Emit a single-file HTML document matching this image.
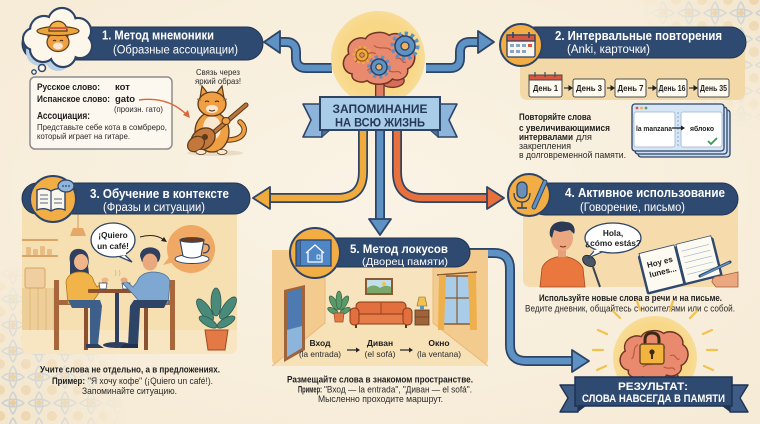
<!DOCTYPE html>
<html><head><meta charset="utf-8">
<style>
html,body{margin:0;padding:0;background:#f8efde;}
svg{display:block;}
text{font-family:"Liberation Sans","DejaVu Sans",sans-serif;}
.w{fill:#ffffff;font-weight:bold;}
.ws{fill:#ffffff;}
.b{fill:#1e1e1e;font-weight:bold;}
.n{fill:#2a2a2a;}
</style></head><body>
<svg width="760" height="424" viewBox="0 0 760 424" xmlns="http://www.w3.org/2000/svg">
<defs>
  <radialGradient id="bg" cx="0.5" cy="0.45" r="0.7">
    <stop offset="0" stop-color="#faf3e5"/>
    <stop offset="1" stop-color="#f6ebd6"/>
  </radialGradient>
  <pattern id="tile" width="26" height="26" patternUnits="userSpaceOnUse">
    <rect width="26" height="26" fill="#f2e4cb"/>
    <path d="M13 2 C18 7 18 19 13 24 C8 19 8 7 13 2Z" fill="none" stroke="#a8bed2" stroke-width="1.5"/>
    <path d="M2 13 C7 8 19 8 24 13 C19 18 7 18 2 13Z" fill="none" stroke="#a8bed2" stroke-width="1.5"/>
    <circle cx="13" cy="13" r="3" fill="#e2b878"/>
    <circle cx="0" cy="0" r="5" fill="#e8c995"/>
    <circle cx="26" cy="0" r="5" fill="#e8c995"/>
    <circle cx="0" cy="26" r="5" fill="#e8c995"/>
    <circle cx="26" cy="26" r="5" fill="#e8c995"/>
  </pattern>
  <radialGradient id="gTR" cx="1" cy="0" r="1">
    <stop offset="0" stop-color="#fff" stop-opacity="0.65"/>
    <stop offset="0.35" stop-color="#fff" stop-opacity="0.3"/>
    <stop offset="0.6" stop-color="#fff" stop-opacity="0"/>
  </radialGradient>
  <radialGradient id="gBL" cx="0" cy="1" r="1">
    <stop offset="0" stop-color="#fff" stop-opacity="0.7"/>
    <stop offset="0.45" stop-color="#fff" stop-opacity="0.3"/>
    <stop offset="0.75" stop-color="#fff" stop-opacity="0"/>
  </radialGradient>
  <mask id="mTR"><rect x="560" y="0" width="200" height="220" fill="url(#gTR)"/></mask>
  <mask id="mBL"><rect x="0" y="200" width="170" height="224" fill="url(#gBL)"/></mask>
  <radialGradient id="glow" cx="0.5" cy="0.5" r="0.5">
    <stop offset="0" stop-color="#f9d47c"/>
    <stop offset="0.8" stop-color="#f8d888"/>
    <stop offset="1" stop-color="#f8dc98"/>
  </radialGradient>
  <g id="brain">
    <ellipse cx="396" cy="82" rx="14" ry="8" fill="#d66e56" stroke="#6e3426" stroke-width="1.6"/>
    <path d="M376,78 L376,104 L386,104 L386,78 Z" fill="#e07c62" stroke="#6e3426" stroke-width="1.6"/>
    <path d="M348,74 C336,72 334,56 344,50 C340,38 352,28 364,32 C368,24 384,22 392,28 C402,22 418,30 416,42 C426,48 424,64 414,68 C416,78 404,84 396,80 C390,88 372,88 366,82 C358,86 346,82 348,74 Z" fill="#e98a6e" stroke="#6e3426" stroke-width="1.8"/>
    <path d="M352,60 C358,54 352,46 360,42 M366,70 C372,64 380,70 386,62 M374,40 C380,46 390,40 394,46 M400,56 C408,52 406,62 412,60 M362,50 C368,52 370,46 376,50 M392,70 C398,74 404,68 406,74" fill="none" stroke="#b9563f" stroke-width="1.4"/>
  </g>
</defs>

<!-- background -->
<rect width="760" height="424" fill="url(#bg)"/>
<rect x="560" y="0" width="200" height="220" fill="url(#tile)" mask="url(#mTR)"/>
<rect x="0" y="200" width="170" height="224" fill="url(#tile)" mask="url(#mBL)"/>

<!-- ============ CONNECTORS ============ -->
<path d="M332,68 L306,68 Q296,68 296,58 L296,52 Q296,42 286,42 L279,42" fill="none" stroke="#2d4466" stroke-width="10"/>
<path d="M332,68 L306,68 Q296,68 296,58 L296,52 Q296,42 286,42 L278,42" fill="none" stroke="#5e91c4" stroke-width="6.5"/>
<polygon points="264,42 280,31 280,53" fill="#5e91c4" stroke="#2d4466" stroke-width="1.8" stroke-linejoin="round"/>
<path d="M426,68 L450,68 Q460,68 460,58 L460,52 Q460,42 470,42 L478,42" fill="none" stroke="#2d4466" stroke-width="10"/>
<path d="M426,68 L450,68 Q460,68 460,58 L460,52 Q460,42 470,42 L479,42" fill="none" stroke="#5e91c4" stroke-width="6.5"/>
<polygon points="494,42 478,31 478,53" fill="#5e91c4" stroke="#2d4466" stroke-width="1.8" stroke-linejoin="round"/>
<path d="M363,130 L363,172 Q363,198 337,198 L269,198" fill="none" stroke="#2d4466" stroke-width="10"/>
<path d="M363,130 L363,172 Q363,198 337,198 L268,198" fill="none" stroke="#f1aa3c" stroke-width="6.5"/>
<polygon points="253,198 270,187 270,209" fill="#f1aa3c" stroke="#2d4466" stroke-width="1.8" stroke-linejoin="round"/>
<path d="M380,130 L380,220" fill="none" stroke="#2d4466" stroke-width="10"/>
<path d="M380,130 L380,221" fill="none" stroke="#5e91c4" stroke-width="6.5"/>
<polygon points="380,235 369,219 391,219" fill="#5e91c4" stroke="#2d4466" stroke-width="1.8" stroke-linejoin="round"/>
<path d="M397,130 L397,172 Q397,198 423,198 L488,198" fill="none" stroke="#2d4466" stroke-width="10"/>
<path d="M397,130 L397,172 Q397,198 423,198 L489,198" fill="none" stroke="#e8703d" stroke-width="6.5"/>
<polygon points="504,198 487,187 487,209" fill="#e8703d" stroke="#2d4466" stroke-width="1.8" stroke-linejoin="round"/>
<path d="M460,253 L494,253 Q510,253 510,269 L510,345 Q510,361 526,361 L573,361" fill="none" stroke="#2d4466" stroke-width="10"/>
<path d="M460,253 L494,253 Q510,253 510,269 L510,345 Q510,361 526,361 L574,361" fill="none" stroke="#5e91c4" stroke-width="6.5"/>
<polygon points="589,361 572,350 572,372" fill="#5e91c4" stroke="#2d4466" stroke-width="1.8" stroke-linejoin="round"/>

<!-- ============ CENTER BRAIN ============ -->
<circle cx="378" cy="58" r="47" fill="url(#glow)"/>
<use href="#brain" transform="translate(379,58) scale(0.84) translate(-380,-55)"/>
<circle cx="405" cy="46" r="12" fill="none" stroke="#5e91c4" stroke-width="5" stroke-dasharray="3.2 3"/>
<circle cx="405" cy="46" r="10" fill="#5e91c4" stroke="#2d4466" stroke-width="1.5"/>
<circle cx="405" cy="46" r="4" fill="#f4b15a" stroke="#2d4466" stroke-width="1.3"/>
<circle cx="379" cy="67" r="9.5" fill="none" stroke="#5e91c4" stroke-width="4.5" stroke-dasharray="3 2.8"/>
<circle cx="379" cy="67" r="8" fill="#5e91c4" stroke="#2d4466" stroke-width="1.5"/>
<circle cx="379" cy="67" r="3.2" fill="#f4b15a" stroke="#2d4466" stroke-width="1.2"/>
<circle cx="362" cy="55" r="7.5" fill="none" stroke="#f1aa3c" stroke-width="3.5" stroke-dasharray="2.4 2.2"/>
<circle cx="362" cy="55" r="6" fill="#f1aa3c" stroke="#8a5a1e" stroke-width="1.2"/>
<circle cx="362" cy="55" r="2.3" fill="#e98a6e" stroke="#8a5a1e" stroke-width="1"/>

<polygon points="322,104 303,104 311,120 303,137 322,137" fill="#8db4da" stroke="#2d4466" stroke-width="1.6" stroke-linejoin="round"/>
<polygon points="438,104 457,104 449,120 457,137 438,137" fill="#8db4da" stroke="#2d4466" stroke-width="1.6" stroke-linejoin="round"/>
<polygon points="322,130 322,137 330,130" fill="#4e6f98" stroke="#2d4466" stroke-width="1"/>
<polygon points="438,130 438,137 430,130" fill="#4e6f98" stroke="#2d4466" stroke-width="1"/>
<rect x="320" y="97" width="120" height="33" fill="#a9cce8" stroke="#2d4466" stroke-width="2"/>
<text x="380" y="113" text-anchor="middle" font-size="12" font-weight="bold" fill="#24385a" textLength="95" lengthAdjust="spacingAndGlyphs">ЗАПОМИНАНИЕ</text>
<text x="380" y="126.5" text-anchor="middle" font-size="12" font-weight="bold" fill="#24385a" textLength="90" lengthAdjust="spacingAndGlyphs">НА ВСЮ ЖИЗНЬ</text>

<!-- ============ CARD 1 ============ -->
<rect x="22" y="27" width="241" height="33" rx="16.5" fill="#2f4a70" stroke="#1f3352" stroke-width="1"/>
<g>
  <g fill="#b9d0e6">
    <circle cx="40" cy="52" r="14"/><circle cx="58" cy="58" r="13"/>
  </g>
  <g fill="#fdf6ea" stroke="#2d4466" stroke-width="2.2">
    <circle cx="44" cy="30" r="14"/><circle cx="62" cy="22" r="14"/><circle cx="78" cy="31" r="13"/>
    <circle cx="80" cy="46" r="12"/><circle cx="63" cy="54" r="13"/><circle cx="43" cy="49" r="13"/><circle cx="34" cy="39" r="11"/>
  </g>
  <g fill="#fdf6ea">
    <circle cx="44" cy="30" r="12.9"/><circle cx="62" cy="22" r="12.9"/><circle cx="78" cy="31" r="11.9"/>
    <circle cx="80" cy="46" r="10.9"/><circle cx="63" cy="54" r="11.9"/><circle cx="43" cy="49" r="11.9"/><circle cx="34" cy="39" r="9.9"/>
    <circle cx="58" cy="38" r="16"/>
  </g>
  <circle cx="42" cy="68" r="3.5" fill="#fdf6ea" stroke="#2d4466" stroke-width="1.5"/>
  <circle cx="34" cy="72" r="2.2" fill="#fdf6ea" stroke="#2d4466" stroke-width="1.3"/>
  <polygon points="48,36 50,27 55,33" fill="#f0a042" stroke="#5b3a1a" stroke-width="1"/>
  <polygon points="68,36 66,27 61,33" fill="#f0a042" stroke="#5b3a1a" stroke-width="1"/>
  <ellipse cx="58" cy="42" rx="11" ry="9.5" fill="#f0a042" stroke="#5b3a1a" stroke-width="1.2"/>
  <ellipse cx="58" cy="46" rx="5" ry="3.5" fill="#fbe7cf"/>
  <path d="M53,41 q1.5,-1.5 3,0 M60,41 q1.5,-1.5 3,0" stroke="#3a2a1a" stroke-width="1" fill="none"/>
  <ellipse cx="58" cy="31" rx="21" ry="4.5" fill="#eaa53c" stroke="#5b3a1a" stroke-width="1.2"/>
  <path d="M49,31 C49,18 67,18 67,31 Z" fill="#f0b44a" stroke="#5b3a1a" stroke-width="1.2"/>
  <path d="M49,28 L67,28" stroke="#d9553d" stroke-width="2"/>
</g>
<text x="102" y="39.5" font-size="12.5" class="w" textLength="112" lengthAdjust="spacingAndGlyphs">1. Метод мнемоники</text>
<text x="113" y="53.5" font-size="11.5" class="ws" textLength="125" lengthAdjust="spacingAndGlyphs">(Образные ассоциации)</text>

<rect x="30" y="77" width="142" height="72" rx="5" fill="#fcf8f0" stroke="#8c8c8c" stroke-width="1.5"/>
<text x="37" y="90" font-size="9.5" class="b" textLength="63" lengthAdjust="spacingAndGlyphs">Русское слово:</text>
<text x="115" y="90" font-size="9.5" class="b">кот</text>
<text x="37" y="102" font-size="9.5" class="b" textLength="73" lengthAdjust="spacingAndGlyphs">Испанское слово:</text>
<text x="115" y="102" font-size="9.5" class="b">gato</text>
<text x="114" y="112" font-size="8" class="n" textLength="49" lengthAdjust="spacingAndGlyphs">(произн. гато)</text>
<text x="37" y="119" font-size="10" class="b" textLength="53" lengthAdjust="spacingAndGlyphs">Ассоциация:</text>
<text x="37" y="130" font-size="8.3" class="n" textLength="130" lengthAdjust="spacingAndGlyphs">Представьте себе кота в сомбреро,</text>
<text x="37" y="139" font-size="8.3" class="n" textLength="93" lengthAdjust="spacingAndGlyphs">который играет на гитаре.</text>
<path d="M139,100 Q168,96 187,115" fill="none" stroke="#d8683c" stroke-width="1.4"/>
<polygon points="190,118 183,115 188,110" fill="#d8683c"/>

<text x="218" y="75" text-anchor="middle" font-size="8" class="n" textLength="44" lengthAdjust="spacingAndGlyphs">Связь через</text>
<text x="218" y="84" text-anchor="middle" font-size="8" class="n" textLength="46" lengthAdjust="spacingAndGlyphs">яркий образ!</text>
<ellipse cx="215" cy="153" rx="28" ry="3" fill="#e8dcc4"/>
<path d="M228,140 C245,140 248,128 240,122" fill="none" stroke="#5b3a1a" stroke-width="5.5" stroke-linecap="round"/>
<path d="M228,140 C245,140 248,128 240,122" fill="none" stroke="#f0a042" stroke-width="3.5" stroke-linecap="round"/>
<ellipse cx="212" cy="132" rx="17" ry="20" fill="#f0a042" stroke="#5b3a1a" stroke-width="1.3"/>
<ellipse cx="212" cy="128" rx="9" ry="12" fill="#fbe7cf"/>
<polygon points="200,98 202,86 209,95" fill="#f0a042" stroke="#5b3a1a" stroke-width="1.2"/>
<polygon points="224,98 222,86 215,95" fill="#f0a042" stroke="#5b3a1a" stroke-width="1.2"/>
<ellipse cx="212" cy="104" rx="14" ry="12" fill="#f0a042" stroke="#5b3a1a" stroke-width="1.3"/>
<ellipse cx="212" cy="109" rx="6" ry="4" fill="#fbe7cf"/>
<path d="M205,102 q2,-2 4,0 M215,102 q2,-2 4,0 M209,110 q3,2 6,0" stroke="#3a2a1a" stroke-width="1" fill="none"/>
<path d="M201,100 l-4,-1 M223,100 l4,-1" stroke="#b35a1e" stroke-width="1"/>
<line x1="212" y1="134" x2="246" y2="105" stroke="#5b3a1a" stroke-width="5" stroke-linecap="round"/>
<line x1="212" y1="134" x2="246" y2="105" stroke="#b8743a" stroke-width="3" stroke-linecap="round"/>
<ellipse cx="203" cy="139" rx="13" ry="10" fill="#c4773a" stroke="#5b3a1a" stroke-width="1.3" transform="rotate(-35 203 139)"/>
<ellipse cx="196" cy="144" rx="9" ry="7" fill="#c4773a" stroke="#5b3a1a" stroke-width="1.2" transform="rotate(-35 196 144)"/>
<circle cx="205" cy="137" r="3" fill="#5b3a1a"/>
<ellipse cx="226" cy="121" rx="4" ry="3.5" fill="#f0a042" stroke="#5b3a1a" stroke-width="1"/>
<ellipse cx="201" cy="152" rx="5" ry="2.5" fill="#fbe7cf" stroke="#5b3a1a" stroke-width="0.8"/>
<ellipse cx="222" cy="152" rx="5" ry="2.5" fill="#fbe7cf" stroke="#5b3a1a" stroke-width="0.8"/>

<!-- ============ CARD 2 ============ -->
<path d="M520,50 L745,50 L745,92 Q745,100 737,100 L528,100 Q520,100 520,92 Z" fill="#f4d9a8"/>
<rect x="520" y="27" width="226" height="31" rx="15.5" fill="#2f4a70" stroke="#1f3352" stroke-width="1"/>
<circle cx="521" cy="45" r="21" fill="#f2ae45" stroke="#2d4466" stroke-width="2"/>
<rect x="507" y="35" width="28" height="22" rx="2" fill="#fbf6ec" stroke="#2d4466" stroke-width="1.3"/>
<rect x="507" y="35" width="28" height="6" fill="#d9553d" stroke="#2d4466" stroke-width="1.3"/>
<g fill="#8aa6c4"><rect x="510" y="44" width="4" height="3"/><rect x="516" y="44" width="4" height="3"/><rect x="522" y="44" width="4" height="3"/><rect x="528" y="44" width="4" height="3" fill="#d9553d"/><rect x="510" y="50" width="4" height="3"/><rect x="516" y="50" width="4" height="3"/><rect x="522" y="50" width="4" height="3"/></g>
<line x1="513" y1="32" x2="513" y2="38" stroke="#2d4466" stroke-width="1.6"/><line x1="529" y1="32" x2="529" y2="38" stroke="#2d4466" stroke-width="1.6"/>
<text x="555" y="40" font-size="12.5" class="w" textLength="167" lengthAdjust="spacingAndGlyphs">2. Интервальные повторения</text>
<text x="567" y="53" font-size="11.5" class="ws" textLength="83" lengthAdjust="spacingAndGlyphs">(Anki, карточки)</text>
<rect x="529" y="75" width="33" height="22" rx="2" fill="#fffaf0" stroke="#4a4a4a" stroke-width="1"/>
<rect x="529" y="75" width="33" height="5" fill="#d9553d" stroke="#4a4a4a" stroke-width="1"/>
<g stroke="#4a4a4a" stroke-width="1.2"><line x1="535" y1="72" x2="535" y2="77"/><line x1="545" y1="72" x2="545" y2="77"/><line x1="555" y1="72" x2="555" y2="77"/></g>
<rect x="573" y="79" width="32" height="18" rx="2" fill="#fffaf0" stroke="#4a4a4a" stroke-width="1"/>
<rect x="615" y="79" width="31" height="18" rx="2" fill="#fffaf0" stroke="#4a4a4a" stroke-width="1"/>
<rect x="657" y="79" width="30" height="18" rx="2" fill="#fffaf0" stroke="#4a4a4a" stroke-width="1"/>
<rect x="698" y="79" width="31" height="18" rx="2" fill="#fffaf0" stroke="#4a4a4a" stroke-width="1"/>
<g font-size="8" class="b" text-anchor="middle">
<text x="545.5" y="91" class="b" textLength="25" lengthAdjust="spacingAndGlyphs">День 1</text>
<text x="589" y="91" class="b" textLength="26" lengthAdjust="spacingAndGlyphs">День 3</text>
<text x="630.5" y="91" class="b" textLength="26" lengthAdjust="spacingAndGlyphs">День 7</text>
<text x="672" y="91" class="b" textLength="27" lengthAdjust="spacingAndGlyphs">День 16</text>
<text x="713.5" y="91" class="b" textLength="27" lengthAdjust="spacingAndGlyphs">День 35</text>
</g>
<g stroke="#222" stroke-width="1.1" fill="#222">
<line x1="564" y1="88" x2="570" y2="88"/><polygon points="572,88 569,86 569,90"/>
<line x1="607" y1="88" x2="612" y2="88"/><polygon points="614,88 611,86 611,90"/>
<line x1="648" y1="88" x2="654" y2="88"/><polygon points="656,88 653,86 653,90"/>
<line x1="689" y1="88" x2="695" y2="88"/><polygon points="697,88 694,86 694,90"/>
</g>
<text x="519" y="120" font-size="9" class="b" textLength="72" lengthAdjust="spacingAndGlyphs">Повторяйте слова</text>
<text x="519" y="131" font-size="9" class="b" textLength="91" lengthAdjust="spacingAndGlyphs">с увеличивающимися</text>
<text x="519" y="140" font-size="9" class="b" textLength="54" lengthAdjust="spacingAndGlyphs">интервалами</text>
<text x="576" y="140" font-size="9" class="n" textLength="16" lengthAdjust="spacingAndGlyphs">для</text>
<text x="519" y="149" font-size="9" class="n" textLength="52" lengthAdjust="spacingAndGlyphs">закрепления</text>
<text x="519" y="158" font-size="9" class="n" textLength="107" lengthAdjust="spacingAndGlyphs">в долговременной памяти.</text>
<rect x="638" y="110" width="92" height="47" rx="3" fill="#c9dcf0" stroke="#2d4466" stroke-width="1.3"/>
<rect x="635" y="107" width="92" height="47" rx="3" fill="#cfe1f3" stroke="#2d4466" stroke-width="1.3"/>
<rect x="632" y="104" width="92" height="47" rx="3" fill="#d6e6f6" stroke="#2d4466" stroke-width="1.3"/>
<circle cx="637" cy="108" r="1.4" fill="#d9553d"/><circle cx="641.5" cy="108" r="1.4" fill="#f2b43f"/><circle cx="646" cy="108" r="1.4" fill="#5aa05a"/>
<rect x="634" y="112" width="41" height="35" rx="2" fill="#ffffff" stroke="#9ab2cc" stroke-width="0.8"/>
<rect x="681" y="112" width="41" height="35" rx="2" fill="#ffffff" stroke="#9ab2cc" stroke-width="0.8"/>
<line x1="678" y1="112" x2="678" y2="147" stroke="#8aa6c4" stroke-width="1" stroke-dasharray="2 2"/>
<text x="636" y="131" font-size="7.5" class="b" textLength="36" lengthAdjust="spacingAndGlyphs">la manzana</text>
<line x1="672" y1="128" x2="682" y2="128" stroke="#222" stroke-width="1.3"/><polygon points="685,128 681,125.5 681,130.5" fill="#222"/>
<text x="690" y="131" font-size="7.5" class="b" textLength="24" lengthAdjust="spacingAndGlyphs">яблоко</text>
<path d="M708,141 l3,3 l6,-6" fill="none" stroke="#3a9a55" stroke-width="1.8"/>

<!-- ============ CARD 3 ============ -->
<path d="M22,205 L237,205 L237,346 Q237,354 229,354 L30,354 Q22,354 22,346 Z" fill="#f6dfb0"/>
<path d="M22,330 L237,330 L237,346 Q237,354 229,354 L30,354 Q22,354 22,346 Z" fill="#f8e6c3"/>
<rect x="22" y="288" width="36" height="42" fill="#eecf9a"/>
<g stroke="#e0b87a" stroke-width="1"><line x1="30" y1="288" x2="30" y2="330"/><line x1="38" y1="288" x2="38" y2="330"/><line x1="46" y1="288" x2="46" y2="330"/><line x1="54" y1="288" x2="54" y2="330"/></g>
<line x1="22" y1="240" x2="58" y2="240" stroke="#d8a468" stroke-width="2"/>
<line x1="22" y1="256" x2="58" y2="256" stroke="#d8a468" stroke-width="2"/>
<g fill="#e8bd84"><rect x="26" y="247" width="5" height="8" rx="1"/><rect x="33" y="249" width="5" height="6" rx="1"/><rect x="40" y="246" width="5" height="9" rx="1"/><rect x="47" y="249" width="5" height="6" rx="1"/></g>
<rect x="25" y="268" width="20" height="20" rx="2" fill="#efcf9f" stroke="#d8a468" stroke-width="1"/>
<line x1="78" y1="214" x2="78" y2="228" stroke="#d8a468" stroke-width="1.2"/>
<path d="M70,236 L73,228 L83,228 L86,236 Z" fill="#e6a868"/>
<path d="M124,254 L132,262 L118,256" fill="#fff" stroke="#2d4466" stroke-width="1.3"/>
<ellipse cx="113" cy="240" rx="22" ry="17" fill="#fff" stroke="#2d4466" stroke-width="1.3"/>
<path d="M118,255 L126,254" stroke="#fff" stroke-width="2"/>
<text x="113" y="238" text-anchor="middle" font-size="8.3" class="b">¡Quiero</text>
<text x="113" y="249" text-anchor="middle" font-size="8.3" class="b">un café!</text>
<path d="M140,237 Q155,233 164,240" fill="none" stroke="#222" stroke-width="1"/>
<polygon points="167,242 161,241 164,237" fill="#222"/>
<path d="M170,256 L163,265 L174,262 Z" fill="#f0a865"/>
<circle cx="191" cy="249" r="24" fill="#f0a865"/>
<ellipse cx="192" cy="259" rx="17" ry="4.5" fill="#fff" stroke="#2d4466" stroke-width="1"/>
<path d="M180,240 L204,240 L201,256 Q192,260 183,256 Z" fill="#fff" stroke="#2d4466" stroke-width="1.1"/>
<path d="M204,244 q6,0 5,5 q-1,4 -6,4" fill="none" stroke="#2d4466" stroke-width="1.3"/>
<ellipse cx="192" cy="240" rx="12" ry="2.5" fill="#6b3a1e" stroke="#2d4466" stroke-width="0.8"/>
<rect x="54" y="280" width="5" height="70" fill="#a8673a"/>
<rect x="54" y="300" width="36" height="5" fill="#a8673a"/>
<rect x="84" y="305" width="4" height="45" fill="#8c5230"/>
<path d="M70,262 C68,252 74,248 80,249 C88,250 90,258 88,266 L90,282 L70,282 Z" fill="#2e3f5f"/>
<ellipse cx="81" cy="262" rx="7" ry="8" fill="#f0b58a"/>
<path d="M68,304 L66,282 Q68,272 80,272 Q92,272 94,282 L97,287 L105,281 L107,284 L98,294 L94,300 L94,304 Z" fill="#f2b448" stroke="#b57a20" stroke-width="0.8"/>
<ellipse cx="105" cy="280" rx="3.5" ry="2.5" fill="#f0b58a"/>
<path d="M68,300 L100,300 L102,306 L98,345 L90,345 L90,308 L72,308 Z" fill="#3e5f8a"/>
<path d="M86,344 L98,344 L104,348 L86,348 Z" fill="#2e3f5f"/>
<rect x="88" y="289" width="58" height="4" rx="1" fill="#8c5230"/>
<rect x="115" y="293" width="4" height="50" fill="#2e3f5f"/>
<ellipse cx="117" cy="345" rx="14" ry="3" fill="#2e3f5f"/>
<path d="M99,283 L107,283 L106,289 L100,289 Z" fill="#fff" stroke="#2d4466" stroke-width="0.7"/>
<path d="M122,283 L130,283 L129,289 L123,289 Z" fill="#fff" stroke="#2d4466" stroke-width="0.7"/>
<path d="M115,276 q2,-3 0,-6 M119,276 q2,-3 0,-6" fill="none" stroke="#d8b48a" stroke-width="0.8"/>
<rect x="170" y="280" width="5" height="70" fill="#a8673a"/>
<rect x="142" y="300" width="33" height="5" fill="#a8673a"/>
<rect x="144" y="305" width="4" height="45" fill="#8c5230"/>
<path d="M140,256 C140,247 152,245 158,250 C162,254 160,260 158,262 L142,262 Z" fill="#2e3f5f"/>
<ellipse cx="150" cy="262" rx="7.5" ry="8.5" fill="#e9a87e"/>
<path d="M168,304 L170,282 Q168,272 152,272 Q140,273 137,282 L133,287 L126,281 L123,284 L133,294 L138,300 L138,304 Z" fill="#7ea8d2" stroke="#4a6f98" stroke-width="0.8"/>
<ellipse cx="124" cy="280" rx="3.5" ry="2.5" fill="#e9a87e"/>
<path d="M168,300 L134,300 L130,306 L128,345 L138,345 L140,308 L164,308 Z" fill="#2e4466"/>
<path d="M138,344 L124,344 L120,348 L138,348 Z" fill="#1f3050"/>
<g fill="#4a8a7a" stroke="#2d5a50" stroke-width="0.8">
<ellipse cx="205" cy="310" rx="5" ry="13" transform="rotate(-35 205 310)"/>
<ellipse cx="228" cy="308" rx="5" ry="13" transform="rotate(35 228 308)"/>
<ellipse cx="216" cy="302" rx="5" ry="14"/>
<ellipse cx="208" cy="322" rx="4" ry="10" transform="rotate(-60 208 322)"/>
<ellipse cx="226" cy="322" rx="4" ry="10" transform="rotate(60 226 322)"/>
</g>
<path d="M205,330 L228,330 L225,350 L208,350 Z" fill="#e37a45" stroke="#a04a22" stroke-width="1"/>
<rect x="22" y="183" width="228" height="31" rx="15.5" fill="#2f4a70" stroke="#1f3352" stroke-width="1"/>
<circle cx="53" cy="199" r="23" fill="#f2ae45" stroke="#2d4466" stroke-width="2"/>
<path d="M37,190 Q44,187 51,191 Q58,187 65,190 L65,210 Q58,207 51,211 Q44,207 37,210 Z" fill="#fbf6ec" stroke="#2d4466" stroke-width="1.4"/>
<line x1="51" y1="191" x2="51" y2="211" stroke="#2d4466" stroke-width="1.2"/>
<g stroke="#2d4466" stroke-width="0.8"><line x1="40" y1="195" x2="48" y2="195"/><line x1="40" y1="199" x2="48" y2="199"/><line x1="40" y1="203" x2="48" y2="203"/><line x1="54" y1="199" x2="62" y2="199"/><line x1="54" y1="203" x2="62" y2="203"/></g>
<ellipse cx="66" cy="186" rx="8" ry="6" fill="#8fb6da" stroke="#2d4466" stroke-width="1.2"/>
<g fill="#2d4466"><circle cx="63" cy="186" r="0.9"/><circle cx="66" cy="186" r="0.9"/><circle cx="69" cy="186" r="0.9"/></g>
<text x="90" y="198" font-size="12.5" class="w" textLength="139" lengthAdjust="spacingAndGlyphs">3. Обучение в контексте</text>
<text x="103" y="211" font-size="11.5" class="ws" textLength="102" lengthAdjust="spacingAndGlyphs">(Фразы и ситуации)</text>
<text x="130" y="372.5" text-anchor="middle" font-size="9" class="b" textLength="180" lengthAdjust="spacingAndGlyphs">Учите слова не отдельно, а в предложениях.</text>
<text x="52" y="384" font-size="9" class="b" textLength="33" lengthAdjust="spacingAndGlyphs">Пример:</text>
<text x="88" y="384" font-size="9" class="n" textLength="125" lengthAdjust="spacingAndGlyphs">"Я хочу кофе" (¡Quiero un café!).</text>
<text x="129.5" y="394" text-anchor="middle" font-size="9" class="n" textLength="95" lengthAdjust="spacingAndGlyphs">Запоминайте ситуацию.</text>

<!-- ============ CARD 4 ============ -->
<path d="M523,205 L738,205 L738,279 Q738,287 730,287 L531,287 Q523,287 523,279 Z" fill="#f6dcac"/>
<path d="M540,287 L542,268 Q546,258 562,256 Q578,258 583,268 L585,287 Z" fill="#e9773e" stroke="#a04a22" stroke-width="0.8"/>
<rect x="558" y="248" width="8" height="9" fill="#e6a07a"/>
<ellipse cx="562" cy="238" rx="11" ry="13" fill="#eba77f"/>
<path d="M550,236 C548,224 558,220 566,222 C574,222 576,230 574,234 L570,230 L560,232 L554,230 L552,238 Z" fill="#2a3a55"/>
<path d="M560,246 q3,2 6,0" stroke="#7a2a1a" stroke-width="1" fill="none"/>
<line x1="593" y1="267" x2="600" y2="287" stroke="#3a4555" stroke-width="2"/>
<ellipse cx="589" cy="261" rx="7" ry="5" fill="#4a5565" stroke="#222" stroke-width="0.8" transform="rotate(35 589 261)"/>
<path d="M596,249 L588,258 L602,252" fill="#fff" stroke="#2d4466" stroke-width="1.2"/>
<ellipse cx="613" cy="238" rx="28" ry="15" fill="#fff" stroke="#2d4466" stroke-width="1.3"/>
<path d="M594,251 L601,250" stroke="#fff" stroke-width="2"/>
<text x="613" y="236" text-anchor="middle" font-size="8.3" class="b">Hola,</text>
<text x="613" y="246" text-anchor="middle" font-size="8.3" class="b">¿cómo estás?</text>
<g transform="rotate(-14 680 265)">
<rect x="641" y="246" width="78" height="40" rx="2" fill="#2f4a70"/>
<rect x="643" y="244" width="36" height="40" fill="#fdfaf2" stroke="#2d4466" stroke-width="0.8"/>
<rect x="681" y="244" width="36" height="40" fill="#fdfaf2" stroke="#2d4466" stroke-width="0.8"/>
<g stroke="#9ab2cc" stroke-width="0.6"><line x1="685" y1="252" x2="713" y2="252"/><line x1="685" y1="258" x2="713" y2="258"/><line x1="685" y1="264" x2="713" y2="264"/><line x1="685" y1="270" x2="713" y2="270"/><line x1="685" y1="276" x2="713" y2="276"/></g>
<text x="648" y="260" font-size="8" class="b">Hoy es</text>
<text x="648" y="270" font-size="8" class="b">lunes...</text>
</g>
<path d="M738,272 L720,276 Q712,276 712,282 L716,287 L738,287 Z" fill="#eba77f" stroke="#a0603a" stroke-width="0.8"/>
<line x1="700" y1="276" x2="730" y2="262" stroke="#2d4466" stroke-width="3" stroke-linecap="round"/>
<line x1="701" y1="276" x2="729" y2="262.5" stroke="#5e91c4" stroke-width="1.6" stroke-linecap="round"/>
<rect x="529" y="183" width="209" height="32" rx="16" fill="#2f4a70" stroke="#1f3352" stroke-width="1"/>
<circle cx="529" cy="195" r="21" fill="#f2ae45" stroke="#2d4466" stroke-width="2"/>
<rect x="517" y="182" width="10" height="16" rx="5" fill="#6c8fb7" stroke="#2d4466" stroke-width="1.3"/>
<path d="M514,193 q0,9 8,9 q8,0 8,-9" fill="none" stroke="#2d4466" stroke-width="1.3"/>
<line x1="522" y1="202" x2="522" y2="208" stroke="#2d4466" stroke-width="1.4"/>
<line x1="517" y1="208" x2="527" y2="208" stroke="#2d4466" stroke-width="1.6"/>
<line x1="545" y1="182" x2="534" y2="207" stroke="#2d4466" stroke-width="5" stroke-linecap="round"/>
<line x1="545" y1="182" x2="534" y2="207" stroke="#5e91c4" stroke-width="3" stroke-linecap="round"/>
<text x="565" y="197" font-size="12.5" class="w" textLength="160" lengthAdjust="spacingAndGlyphs">4. Активное использование</text>
<text x="580" y="211" font-size="11.5" class="ws" textLength="105" lengthAdjust="spacingAndGlyphs">(Говорение, письмо)</text>
<text x="630.5" y="301" text-anchor="middle" font-size="9" class="b" textLength="183" lengthAdjust="spacingAndGlyphs">Используйте новые слова в речи и на письме.</text>
<text x="630" y="311.5" text-anchor="middle" font-size="9" class="n" textLength="210" lengthAdjust="spacingAndGlyphs">Ведите дневник, общайтесь с носителями или с собой.</text>

<!-- ============ CARD 5 ============ -->
<path d="M272,250 L488,250 L488,358 Q488,366 480,366 L280,366 Q272,366 272,358 Z" fill="#f3cb8e"/>
<rect x="325" y="262" width="108" height="61" fill="#f7e3bd"/>
<path d="M325,323 L433,323 L488,366 L272,366 Z" fill="#f7e1b6"/>
<path d="M325,262 L325,323 L272,366 M433,262 L433,323 L488,366" fill="none" stroke="#e8b878" stroke-width="1"/>
<path d="M284,290 L305,285 L305,350 L284,362 Z" fill="#a0643a"/>
<path d="M287,292 L302,288 L302,348 L287,357 Z" fill="#4d7ab0"/>
<path d="M287,330 L302,326 L302,348 L287,357 Z" fill="#8db4da"/>
<rect x="443" y="276" width="28" height="48" fill="#a9cce8" stroke="#8c5a30" stroke-width="1.5"/>
<line x1="457" y1="276" x2="457" y2="324" stroke="#8c5a30" stroke-width="1.2"/>
<line x1="443" y1="298" x2="471" y2="298" stroke="#8c5a30" stroke-width="1.2"/>
<line x1="437" y1="275" x2="477" y2="272" stroke="#8c5a30" stroke-width="1.5"/>
<path d="M439,275 L446,275 L444,330 L438,330 Z" fill="#eeb04c"/>
<path d="M468,273 L476,273 L477,330 L470,330 Z" fill="#eeb04c"/>
<rect x="365" y="278" width="28" height="17" fill="#8c5a30"/>
<rect x="367" y="280" width="24" height="13" fill="#bfe0ea"/>
<path d="M367,293 L367,288 Q374,283 380,288 Q386,284 391,287 L391,293 Z" fill="#7aa86a"/>
<circle cx="384" cy="284" r="2" fill="#f2c14e"/>
<g fill="#5a9a6a" stroke="#2d5a40" stroke-width="0.6">
<ellipse cx="334" cy="303" rx="3" ry="8" transform="rotate(-30 334 303)"/>
<ellipse cx="344" cy="303" rx="3" ry="8" transform="rotate(30 344 303)"/>
<ellipse cx="339" cy="300" rx="3" ry="9"/>
<ellipse cx="333" cy="311" rx="2.5" ry="6" transform="rotate(-60 333 311)"/>
<ellipse cx="345" cy="311" rx="2.5" ry="6" transform="rotate(60 345 311)"/>
</g>
<path d="M334,313 L344,313 L343,322 L335,322 Z" fill="#e37a45" stroke="#a04a22" stroke-width="0.7"/>
<rect x="356" y="302" width="50" height="14" rx="4" fill="#e2703f" stroke="#8a3a1a" stroke-width="1"/>
<line x1="381" y1="303" x2="381" y2="316" stroke="#8a3a1a" stroke-width="0.8"/>
<rect x="354" y="314" width="54" height="10" rx="2" fill="#e67c48" stroke="#8a3a1a" stroke-width="1"/>
<rect x="350" y="308" width="9" height="17" rx="4" fill="#e2703f" stroke="#8a3a1a" stroke-width="1"/>
<rect x="403" y="308" width="9" height="17" rx="4" fill="#e2703f" stroke="#8a3a1a" stroke-width="1"/>
<rect x="355" y="325" width="2" height="3" fill="#5b3a1a"/><rect x="405" y="325" width="2" height="3" fill="#5b3a1a"/>
<rect x="415" y="310" width="14" height="15" fill="#a0643a" stroke="#5b3a1a" stroke-width="0.8"/>
<line x1="415" y1="317" x2="429" y2="317" stroke="#5b3a1a" stroke-width="0.6"/>
<path d="M417,306 L419,297 L425,297 L427,306 Z" fill="#f2c14e" stroke="#8a6a1a" stroke-width="0.6"/>
<rect x="420" y="306" width="4" height="4" fill="#5e91c4"/>
<text x="320" y="346" text-anchor="middle" font-size="8.5" class="b">Вход</text>
<text x="320" y="357" text-anchor="middle" font-size="8.5" class="n" textLength="42" lengthAdjust="spacingAndGlyphs">(la entrada)</text>
<line x1="347" y1="350" x2="357" y2="350" stroke="#222" stroke-width="1.2"/><polygon points="360,350 356,347.5 356,352.5" fill="#222"/>
<text x="380" y="346" text-anchor="middle" font-size="8.5" class="b">Диван</text>
<text x="380" y="357" text-anchor="middle" font-size="8.5" class="n" textLength="31" lengthAdjust="spacingAndGlyphs">(el sofá)</text>
<line x1="400" y1="350" x2="410" y2="350" stroke="#222" stroke-width="1.2"/><polygon points="413,350 409,347.5 409,352.5" fill="#222"/>
<text x="439" y="346" text-anchor="middle" font-size="8.5" class="b">Окно</text>
<text x="439" y="357" text-anchor="middle" font-size="8.5" class="n" textLength="44" lengthAdjust="spacingAndGlyphs">(la ventana)</text>
<rect x="305" y="238" width="165" height="29" rx="14.5" fill="#2f4a70" stroke="#1f3352" stroke-width="1"/>
<circle cx="315" cy="253" r="25" fill="#f2ae45" stroke="#2d4466" stroke-width="2"/>
<rect x="300" y="240" width="31" height="26" fill="#4f86c6" stroke="#2d4466" stroke-width="1.3"/>
<path d="M300,240 q-4,0 -4,4 L296,266 L300,266" fill="#3e6fa8" stroke="#2d4466" stroke-width="1.2"/>
<path d="M306,253 L315,245 L324,253 M308,252 L308,262 L322,262 L322,252" fill="none" stroke="#fff" stroke-width="1.3"/>
<rect x="317" y="255" width="3" height="4" fill="none" stroke="#fff" stroke-width="0.8"/>
<text x="350" y="253" font-size="11.5" class="w" textLength="98" lengthAdjust="spacingAndGlyphs">5. Метод локусов</text>
<text x="362" y="265" font-size="10.5" class="ws" textLength="86" lengthAdjust="spacingAndGlyphs">(Дворец памяти)</text>
<text x="380" y="382.5" text-anchor="middle" font-size="9" class="b" textLength="186" lengthAdjust="spacingAndGlyphs">Размещайте слова в знакомом пространстве.</text>
<text x="298" y="392.5" font-size="9" class="b" textLength="24" lengthAdjust="spacingAndGlyphs">Пример:</text>
<text x="324" y="392.5" font-size="9" class="n" textLength="148" lengthAdjust="spacingAndGlyphs">"Вход — la entrada", "Диван — el sofá".</text>
<text x="380.5" y="402" text-anchor="middle" font-size="9" class="n" textLength="125" lengthAdjust="spacingAndGlyphs">Мысленно проходите маршрут.</text>

<!-- ============ RESULT ============ -->
<g stroke="#f2c14e" stroke-width="2.2" stroke-linecap="round">
<line x1="607" y1="334" x2="598" y2="330"/>
<line x1="603" y1="350" x2="593" y2="350"/>
<line x1="606" y1="366" x2="597" y2="370"/>
<line x1="620" y1="318" x2="613" y2="311"/>
<line x1="640" y1="310" x2="637" y2="301"/>
<line x1="670" y1="310" x2="673" y2="301"/>
<line x1="690" y1="318" x2="697" y2="311"/>
<line x1="703" y1="334" x2="712" y2="330"/>
<line x1="707" y1="350" x2="717" y2="350"/>
<line x1="704" y1="366" x2="713" y2="370"/>
</g>
<circle cx="655" cy="358" r="42" fill="url(#glow)"/>
<use href="#brain" transform="translate(654,355) scale(0.8) translate(-380,-55)"/>
<path d="M645,346 L645,340 Q645,333 652,333 Q659,333 659,340 L659,346" fill="none" stroke="#3a2a14" stroke-width="3"/>
<rect x="640" y="344" width="24" height="20" rx="2.5" fill="#f2b43f" stroke="#6b4a1f" stroke-width="1.4"/>
<circle cx="652" cy="352" r="2.6" fill="#3a2a14"/>
<rect x="651" y="353" width="2" height="6" fill="#3a2a14"/>
<polygon points="578,385 560,385 568,398 560,412 578,412" fill="#3e5c86" stroke="#1f3352" stroke-width="1.4" stroke-linejoin="round"/>
<polygon points="730,385 748,385 740,398 748,412 730,412" fill="#3e5c86" stroke="#1f3352" stroke-width="1.4" stroke-linejoin="round"/>
<polygon points="578,406 578,412 586,406" fill="#1f3352"/>
<polygon points="730,406 730,412 722,406" fill="#1f3352"/>
<rect x="575" y="377" width="157" height="29" fill="#2f4a70" stroke="#1f3352" stroke-width="1.5"/>
<text x="653" y="390" text-anchor="middle" font-size="11" class="w" textLength="70" lengthAdjust="spacingAndGlyphs">РЕЗУЛЬТАТ:</text>
<text x="653.5" y="402" text-anchor="middle" font-size="11" class="w" textLength="143" lengthAdjust="spacingAndGlyphs">СЛОВА НАВСЕГДА В ПАМЯТИ</text>
</svg>
</body></html>
